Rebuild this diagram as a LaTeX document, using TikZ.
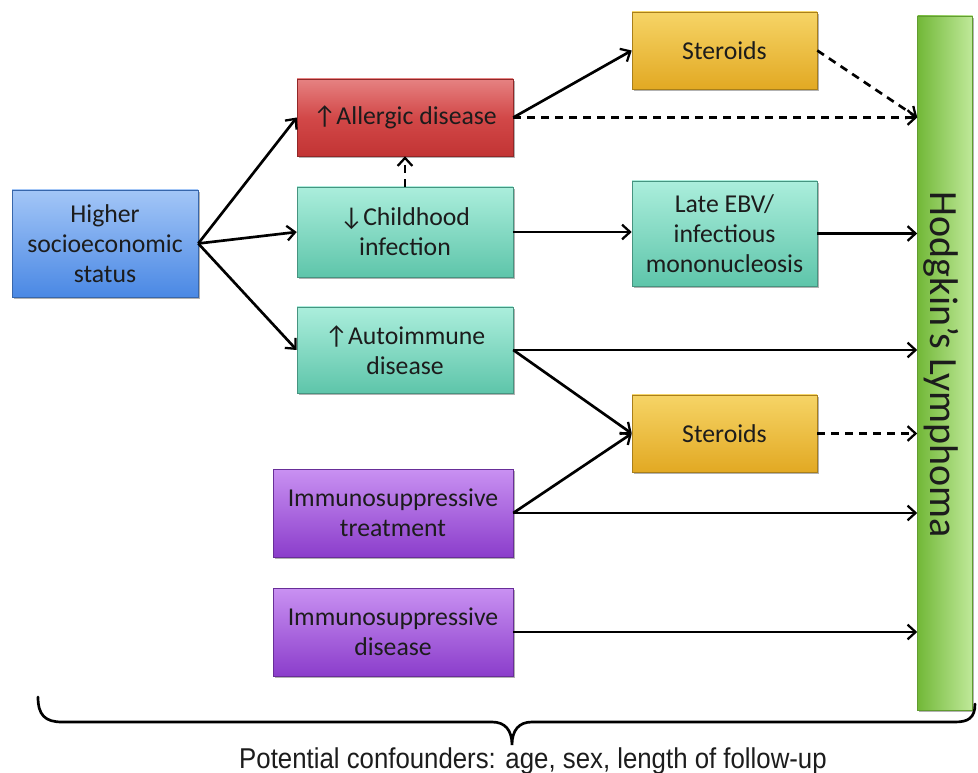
\documentclass[tikz,border=0pt]{standalone}
\usepackage{fontspec}
\setmainfont{Carlito}
\newfontfamily\arialfont{Liberation Sans}
\usetikzlibrary{arrows.meta,shadows}
\definecolor{txt}{HTML}{1C1C1C}
\definecolor{bluetop}{HTML}{A3C6F7}
\definecolor{bluebot}{HTML}{4A88E4}
\definecolor{redtop}{HTML}{E68282}
\definecolor{redmid}{HTML}{D24848}
\definecolor{redbot}{HTML}{C23434}
\definecolor{tealtop}{HTML}{ABEEDC}
\definecolor{tealbot}{HTML}{5EC5AA}
\definecolor{orangetop}{HTML}{F6D466}
\definecolor{orangebot}{HTML}{E2A923}
\definecolor{purptop}{HTML}{C991F2}
\definecolor{purpbot}{HTML}{8B3DCB}
\definecolor{greenL}{HTML}{72B838}
\definecolor{greenR}{HTML}{C0E99A}
\tikzset{
  box/.style={draw=#1!75!black, line width=0.4pt, align=center, text=txt,
    font=\fontsize{19.3}{22.5}\selectfont, inner sep=2pt,
    drop shadow={shadow xshift=1.2pt, shadow yshift=-1.5pt, fill=black, opacity=0.3}},
  bluebox/.style={box=bluebot, top color=bluetop, bottom color=bluebot},
  redbox/.style={box=redbot, top color=redtop, bottom color=redbot, middle color=redmid},
  tealbox/.style={box=tealbot, top color=tealtop, bottom color=tealbot},
  orangebox/.style={box=orangebot, top color=orangetop, bottom color=orangebot},
  purplebox/.style={box=purpbot, top color=purptop, bottom color=purpbot},
  arr/.style={line width=2pt, -{Straight Barb[length=6pt,width=11pt,line width=1.7pt]}},
  darr/.style={arr, dash pattern=on 6pt off 4.5pt},
}
\begin{document}
\begin{tikzpicture}[x=0.75pt,y=-0.75pt]
\useasboundingbox (0,0) rectangle (978,773);
\node[bluebox, minimum width=139.5pt, minimum height=80.25pt] (ses) at (105,243.5) {Higher\\socioeconomic\\status};
\node[redbox, minimum width=162pt, minimum height=57.75pt] (all) at (405,117.5) {↑Allergic disease};
\node[tealbox, minimum width=162pt, minimum height=67.5pt] (chi) at (405,232) {↓Childhood\\infection};
\node[tealbox, minimum width=162pt, minimum height=64.5pt] (aut) at (405,350) {↑Autoimmune\\disease};
\node[orangebox, minimum width=138.75pt, minimum height=57.75pt] (st1) at (724.5,50.5) {Steroids};
\node[tealbox, minimum width=138.75pt, minimum height=78.75pt] (ebv) at (724.5,233.5) {Late EBV/\\infectious\\mononucleosis};
\node[orangebox, minimum width=138.75pt, minimum height=57.75pt] (st2) at (724.5,433.5) {Steroids};
\node[purplebox, minimum width=180pt, minimum height=66pt] (imt) at (393,513) {Immunosuppressive\\treatment};
\node[purplebox, minimum width=180pt, minimum height=66pt] (imd) at (393,632) {Immunosuppressive\\disease};
\node[draw=greenL!85!black, line width=0.4pt, left color=greenL, right color=greenR,
  drop shadow={shadow xshift=1.2pt, shadow yshift=-1.5pt, fill=black, opacity=0.3},
  minimum width=41.25pt, minimum height=520.5pt, inner sep=0pt] (hl) at (945,363) {};
\node[rotate=-90, text=txt, font=\fontsize{30}{36}\selectfont] (hlt) at (941,365) {Hodgkin’s Lymphoma};

\draw[arr] (ses.east) -- (all.west);
\draw[arr] (ses.east) -- (chi.west);
\draw[arr] (ses.east) -- (aut.west);
\draw[arr] (all.east) -- (st1.west);
\draw[darr] (all.east) -- (hl.west |- all.east);
\draw[darr] (st1.east) -- (hl.west |- all.east);
\draw[darr] (chi.north) -- (all.south);
\draw[arr] (chi.east) -- (ebv.west |- chi.east);
\draw[arr] (ebv.east) -- (hl.west |- ebv.east);
\draw[arr] (aut.east) -- (hl.west |- aut.east);
\draw[arr] (aut.east) -- (st2.west);
\draw[darr] (st2.east) -- (hl.west |- st2.east);
\draw[arr] (imt.east) -- (st2.west);
\draw[arr] (imt.east) -- (hl.west |- imt.east);
\draw[arr] (imd.east) -- (hl.west |- imd.east);

\coordinate (bl) at (38,697);
\coordinate (bt) at (512,745);
\coordinate (br) at (975,704);
\draw[line width=2pt, line cap=round] (bl) .. controls (38,715) and (45,722) .. (62,722) -- (492,722)
  .. controls (505,722) and (512,730) .. (bt) .. controls (512,730) and (519,722) .. (532,722)
  -- (955,722) .. controls (968,722) and (975,718) .. (br);
\node[anchor=base, text=txt, font=\arialfont\fontsize{21.5}{24}\selectfont] (conf) at (533,768)
  {\scalebox{0.9}[1]{Potential confounders: age, sex, length of follow-up}};
\end{tikzpicture}
\end{document}
